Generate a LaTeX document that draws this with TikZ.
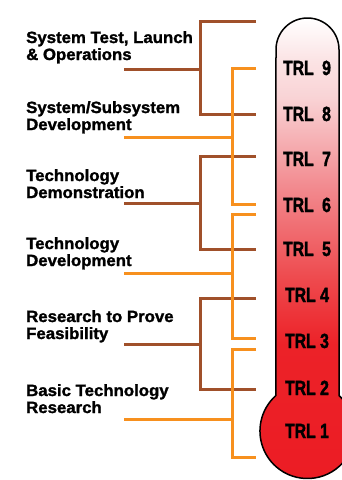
\documentclass[tikz,border=0pt]{standalone}
\usepackage{fontspec}
\setmainfont{Liberation Sans}
\newfontfamily\lblfont[FakeBold=1.5,FakeStretch=1.03]{Liberation Sans}
\newfontfamily\trlfont[FakeStretch=0.77,FakeBold=1.8]{Liberation Sans}
\definecolor{brownln}{HTML}{A0502A}
\definecolor{orangeln}{HTML}{F7901E}
\definecolor{t0}{HTML}{FFFFFF}
\definecolor{t1}{HTML}{FBE3E4}
\definecolor{t2}{HTML}{F9D4D6}
\definecolor{t3}{HTML}{F28A8F}
\definecolor{t4}{HTML}{EE4A4E}
\definecolor{t5}{HTML}{EC2228}
\definecolor{t6}{HTML}{EC1C24}
\pgfdeclareverticalshading{thermo}{100bp}{color(0bp)=(t6); color(25bp)=(t6); color(40bp)=(t5); color(47.1bp)=(t4); color(56.9bp)=(t3); color(66.6bp)=(t2); color(70.4bp)=(t1); color(75bp)=(t0); color(100bp)=(t0)}
\tikzset{
  lbl/.style={anchor=base west, align=left, inner sep=0pt, font=\lblfont\bfseries\fontsize{16.3}{17}\selectfont},
  trl/.style={anchor=base, inner sep=0pt, font=\trlfont\bfseries\fontsize{20.5}{21}\selectfont},
  brln/.style={draw=brownln, line width=3pt, line join=miter},
  orln/.style={draw=orangeln, line width=3pt, line join=miter},
}
\begin{document}
\begin{tikzpicture}[x=1pt, y=-1pt]
\useasboundingbox (0,0) rectangle (341,480);
% thermometer
\path[shading=thermo, draw=black, line width=1.5pt]
  (276,49.5) arc[start angle=180, end angle=360, radius=31.5]
  -- (339,395.5) arc[start angle=-48.4, end angle=228.4, radius=47.5] -- cycle;
% TRL labels
\node[trl] (trl9) at (307,75) {TRL\hspace{4pt} 9};
\node[trl] (trl8) at (307,121) {TRL\hspace{4pt} 8};
\node[trl] (trl7) at (307,166) {TRL\hspace{4pt} 7};
\node[trl] (trl6) at (307,212) {TRL\hspace{4pt} 6};
\node[trl] (trl5) at (307,256) {TRL\hspace{4pt} 5};
\node[trl] (trl4) at (307,302) {TRL 4};
\node[trl] (trl3) at (307,348) {TRL 3};
\node[trl] (trl2) at (307,395) {TRL 2};
\node[trl] (trl1) at (307,438) {TRL 1};
% stage labels (anchor = baseline of last line)
\node[lbl] (l1) at (26,60) {System Test, Launch\\\& Operations};
\node[lbl] (l2) at (26,130) {System/Subsystem\\Development};
\node[lbl] (l3) at (26,198) {Technology\\Demonstration};
\node[lbl] (l4) at (26,266) {Technology\\Development};
\node[lbl] (l5) at (26,339) {Research to Prove\\Feasibility};
\node[lbl] (l6) at (26,413) {Basic Technology\\Research};
% bracket coordinates
\foreach \n/\xv/\yt/\yb/\ys in {b1/200/21/114/69, b2/200/156/249/203, b3/200/298/389/344,
                                 o1/232/68/204/137, o2/232/214/338/273, o3/232/349/457/419}{
  \coordinate (\n tr) at (256,\yt);
  \coordinate (\n tl) at (\xv,\yt);
  \coordinate (\n bl) at (\xv,\yb);
  \coordinate (\n br) at (256,\yb);
  \coordinate (\n sl) at (124,\ys);
  \coordinate (\n sr) at (\xv,\ys);
}
% brown brackets
\foreach \n in {b1,b2,b3}{
  \draw[brln] (\n tr) -- (\n tl) -- (\n bl) -- (\n br);
  \draw[brln] (\n sl) -- (\n sr);
}
% orange brackets
\foreach \n in {o1,o2,o3}{
  \draw[orln] (\n tr) -- (\n tl) -- (\n bl) -- (\n br);
  \draw[orln] (\n sl) -- (\n sr);
}
\end{tikzpicture}
\end{document}
